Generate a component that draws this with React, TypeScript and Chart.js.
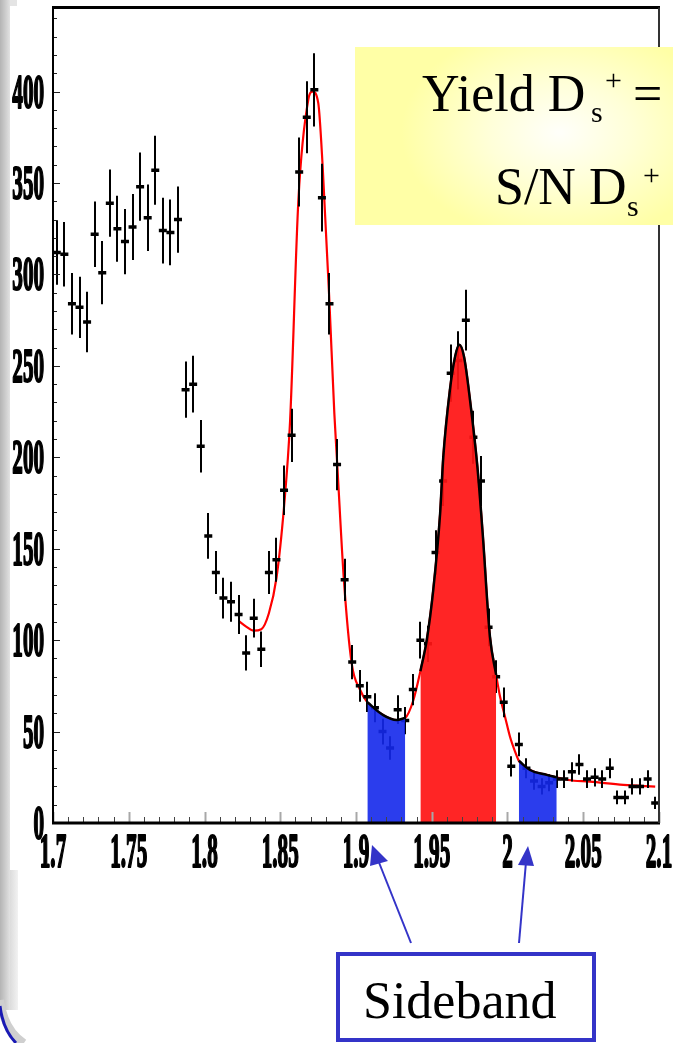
import { useEffect, useRef } from 'react';
import { Chart, registerables } from 'chart.js';

Chart.register(...registerables);

// ---- Histogram (bins of 0.005 starting at 1.7) ----
const BIN_START = 1.7;
const BIN_WIDTH = 0.005;
const COUNTS = [
  312, 311, 284, 282, 274, 322, 301, 339, 325, 318,
  326, 348, 331, 357, 324, 323, 330, 237, 240, 206,
  157, 137, 123, 121, 114, 93, 112, 95, 137, 144,
  182, 212, 356, 386, 401, 342, 284, 196, 133, 88,
  75, 69, 63, 50, 41, 62, 56, 73, 100, 98,
  148, 187, 246, 253, 275, 211, 187, 107, 80, 66,
  31, 43, 30, 23, 20, 22, 24, 24, 28, 32,
  24, 25, 24, 30, 14, 14, 20, 20, 24, 11,
];

// ---- Fit curve ----
const FIT_X = [
  1.8225, 1.8275, 1.8325, 1.8375, 1.8425, 1.8475, 1.8525, 1.8565, 1.862, 1.8685,
  1.8714, 1.8751, 1.878, 1.8824, 1.8857, 1.8877, 1.892, 1.8972, 1.9026, 1.9075,
  1.918, 1.9268, 1.9325, 1.9378, 1.9425, 1.9467, 1.951, 1.9555, 1.9576, 1.962,
  1.9654, 1.9682, 1.9713, 1.9753, 1.9801, 1.9836, 1.9884, 1.9925, 1.9951, 1.9984,
  2.0017, 2.005, 2.0075, 2.0149, 2.0259, 2.0325, 2.04, 2.0545, 2.0765, 2.0975,
];
const FIT_Y = [
  110.5, 107.4, 105.2, 106, 114.7, 134, 173, 220, 341, 395.5,
  400, 393.7, 359, 286, 224, 195, 133, 87, 73, 66,
  59, 56.3, 57.5, 67, 83, 100, 127.5, 169, 200, 237,
  255, 261.5, 255, 231, 195, 158.5, 102, 81, 69, 58,
  47, 39, 34, 29, 26.3, 25, 23.5, 22.6, 20.8, 19.9,
];

// ---- Shaded regions (x ranges) ----
const SIDEBAND_LOW = [1.9075, 1.9325];
const SIGNAL_BAND = [1.9425, 1.9925];
const SIDEBAND_HIGH = [2.0075, 2.0325];

// ---- Axes ----
const X_TICKS = [1.7, 1.75, 1.8, 1.85, 1.9, 1.95, 2.0, 2.05, 2.1];
const X_TICK_LABELS = ['1.7', '1.75', '1.8', '1.85', '1.9', '1.95', '2', '2.05', '2.1'];
const Y_TICKS = [0, 50, 100, 150, 200, 250, 300, 350, 400];
const Y_TICK_LABELS = ['0', '50', '100', '150', '200', '250', '300', '350', '400'];
const X_MIN = 1.7;
const X_MAX = 2.1;
const Y_MIN = 0;
const Y_MAX = 446;

const LABEL_FONT = 'bold 48px "Liberation Serif", "Times New Roman", serif';
const LABEL_SCALE_X = 0.44;

const errorBarPlugin = {
  id: 'errorBars',
  afterDatasetDraw(chart: any, args: any) {
    if (args.index !== 1) return;
    const { ctx, chartArea, scales } = chart;
    const x = scales.x;
    const y = scales.y;
    ctx.save();
    ctx.beginPath();
    ctx.rect(chartArea.left, chartArea.top, chartArea.right - chartArea.left, chartArea.bottom - chartArea.top);
    ctx.clip();
    ctx.strokeStyle = '#000';
    ctx.lineWidth = 2;
    COUNTS.forEach((c, i) => {
      const e = Math.sqrt(c); // Poisson uncertainty of a histogram bin
      const px = Math.round(x.getPixelForValue(BIN_START + BIN_WIDTH * (i + 0.5)));
      ctx.beginPath();
      ctx.moveTo(px, y.getPixelForValue(c - e));
      ctx.lineTo(px, y.getPixelForValue(c + e));
      ctx.stroke();
    });
    ctx.restore();
  },
};

const framePlugin = {
  id: 'rootFrame',
  afterDraw(chart: any) {
    const { ctx, chartArea, scales } = chart;
    const x = scales.x;
    const y = scales.y;
    const { left, right, top, bottom } = chartArea;
    ctx.save();
    // minor / major ticks on x (pointing into the frame)
    for (let k = 0; k <= 40; k++) {
      const v = X_MIN + k * 0.01;
      const px = Math.round(x.getPixelForValue(v)) + 0.5;
      const major = k % 5 === 0;
      ctx.beginPath();
      ctx.strokeStyle = major ? '#a8a8a8' : '#444';
      ctx.lineWidth = major ? 2 : 1;
      ctx.moveTo(px, bottom);
      ctx.lineTo(px, bottom - (major ? 11 : 6));
      ctx.stroke();
    }
    // ticks on y
    for (let k = 0; k <= 44; k++) {
      const v = k * 10;
      const py = Math.round(y.getPixelForValue(v)) + 0.5;
      const major = k % 5 === 0;
      ctx.beginPath();
      ctx.strokeStyle = '#222';
      ctx.lineWidth = 1;
      ctx.moveTo(left, py);
      ctx.lineTo(left + (major ? 7 : 4), py);
      ctx.stroke();
    }
    // frame
    ctx.strokeStyle = '#000';
    ctx.lineWidth = 3;
    ctx.beginPath(); ctx.moveTo(left - 1, top); ctx.lineTo(right + 1, top); ctx.stroke();
    ctx.beginPath(); ctx.moveTo(left - 1, bottom); ctx.lineTo(right + 1, bottom); ctx.stroke();
    ctx.lineWidth = 2;
    ctx.beginPath(); ctx.moveTo(left, top); ctx.lineTo(left, bottom); ctx.stroke();
    ctx.strokeStyle = '#333';
    ctx.beginPath(); ctx.moveTo(right, top); ctx.lineTo(right, bottom); ctx.stroke();

    // tick labels (condensed heavy serif)
    ctx.fillStyle = '#000';
    ctx.strokeStyle = '#000';
    ctx.lineWidth = 2.2;
    ctx.lineJoin = 'round';
    ctx.font = LABEL_FONT;
    ctx.textBaseline = 'alphabetic';
    X_TICKS.forEach((v, i) => {
      const px = x.getPixelForValue(v);
      ctx.save();
      ctx.translate(px, bottom + 44);
      ctx.scale(LABEL_SCALE_X, 1);
      ctx.textAlign = 'center';
      ctx.fillText(X_TICK_LABELS[i], 0, 0);
      ctx.strokeText(X_TICK_LABELS[i], 0, 0);
      ctx.restore();
    });
    Y_TICKS.forEach((v, i) => {
      const py = y.getPixelForValue(v);
      ctx.save();
      ctx.translate(left - 9, py + 16);
      ctx.scale(LABEL_SCALE_X, 1);
      ctx.textAlign = 'right';
      ctx.fillText(Y_TICK_LABELS[i], 0, 0);
      ctx.strokeText(Y_TICK_LABELS[i], 0, 0);
      ctx.restore();
    });
    ctx.restore();
  },
};

const serif = '"Liberation Serif", "Times New Roman", serif';

function Glyph({ text, left, baseline, size }: { text: string; left: number; baseline: number; size: number }) {
  return (
    <div
      style={{
        position: 'absolute',
        left,
        top: baseline - 0.891 * size,
        fontFamily: serif,
        fontSize: size,
        lineHeight: 'normal',
        whiteSpace: 'pre',
        color: '#000',
      }}
    >
      {text}
    </div>
  );
}

export default function App() {
  const canvasRef = useRef<HTMLCanvasElement>(null);

  useEffect(() => {
    const canvas = canvasRef.current;
    if (!canvas) return;
    const markers = COUNTS.map((c, i) => ({ x: BIN_START + BIN_WIDTH * (i + 0.5), y: c }));
    const fit = FIT_X.map((xv, i) => ({ x: xv, y: FIT_Y[i] }));
    const inRange = (r: number[]) => fit.filter((p) => p.x >= r[0] - 1e-9 && p.x <= r[1] + 1e-9);

    const bandDataset = (r: number[], color: string) => ({
      type: 'line' as const,
      data: inRange(r),
      borderColor: '#000',
      borderWidth: 2.5,
      backgroundColor: color,
      fill: 'origin',
      pointRadius: 0,
      cubicInterpolationMode: 'monotone' as const,
      order: 1,
    });

    const chart = new Chart(canvas, {
      type: 'scatter',
      data: {
        datasets: [
          {
            type: 'line',
            data: fit,
            borderColor: '#ff0000',
            borderWidth: 2.2,
            pointRadius: 0,
            fill: false,
            cubicInterpolationMode: 'monotone',
            order: 3,
          } as any,
          {
            type: 'scatter',
            data: markers,
            pointStyle: 'line',
            pointRadius: 4,
            borderWidth: 3.5,
            borderColor: '#000',
            backgroundColor: '#000',
            order: 2,
          } as any,
          bandDataset(SIDEBAND_LOW, 'rgba(20, 40, 235, 0.9)') as any,
          bandDataset(SIGNAL_BAND, 'rgba(255, 20, 20, 0.93)') as any,
          bandDataset(SIDEBAND_HIGH, 'rgba(20, 40, 235, 0.9)') as any,
        ],
      },
      options: {
        responsive: false,
        animation: false,
        devicePixelRatio: 1,
        layout: { padding: { left: 53, top: 7, right: 14, bottom: 220 } },
        plugins: { legend: { display: false }, tooltip: { enabled: false } },
        scales: {
          x: {
            type: 'linear',
            min: X_MIN,
            max: X_MAX,
            grid: { display: false },
            border: { display: false },
            ticks: { display: false },
            afterBuildTicks: (s: any) => { s.ticks = X_TICKS.map((v) => ({ value: v })); },
            afterFit: (s: any) => { s.height = 0; },
          },
          y: {
            type: 'linear',
            min: Y_MIN,
            max: Y_MAX,
            grid: { display: false },
            border: { display: false },
            ticks: { display: false },
            afterBuildTicks: (s: any) => { s.ticks = Y_TICKS.map((v) => ({ value: v })); },
            afterFit: (s: any) => { s.width = 0; },
          },
        },
      } as any,
      plugins: [errorBarPlugin, framePlugin],
    });
    return () => chart.destroy();
  }, []);

  const blue = '#3434c8';

  return (
    <div style={{ position: 'absolute', left: 0, top: 0, width: 673, height: 1043, background: '#fff', overflow: 'hidden' }}>
      {/* slide decoration on the left edge */}
      <div style={{ position: 'absolute', left: 0, top: 0, width: 10, height: 1010, background: 'linear-gradient(to right, #b4b4b4, #cfcfcf 60%, #e2e2e2)' }} />
      <div style={{ position: 'absolute', left: 10, top: 0, width: 7, height: 6, background: '#e4e4e4' }} />
      <div style={{ position: 'absolute', left: 10, top: 870, width: 8, height: 140, background: 'linear-gradient(to right, #dcdcdc, #f2f2f2)' }} />

      <canvas ref={canvasRef} width={673} height={1043} style={{ position: 'absolute', left: 0, top: 0, width: 673, height: 1043 }} />

      {/* Yield / S/N box */}
      <div
        style={{
          position: 'absolute',
          left: 355,
          top: 47,
          width: 330,
          height: 178,
          background: 'radial-gradient(ellipse 48% 62% at 62% 48%, #fffffa 0%, #ffffd8 45%, #ffffa6 100%)',
        }}
      />
      <Glyph text="Yield D" left={422} baseline={110} size={52} />
      <Glyph text="s" left={591} baseline={122} size={30} />
      <Glyph text="+" left={605} baseline={90} size={30} />
      <Glyph text="=" left={633} baseline={110} size={52} />
      <Glyph text="S/N D" left={495} baseline={203} size={52} />
      <Glyph text="s" left={627} baseline={216} size={30} />
      <Glyph text="+" left={643} baseline={185} size={30} />

      {/* arrows and bottom-left decoration */}
      <svg width={673} height={1043} style={{ position: 'absolute', left: 0, top: 0 }}>
        <line x1={411} y1={943} x2={378} y2={860} stroke={blue} strokeWidth={2} />
        <polygon points="372,845 370,866 388,861" fill={blue} />
        <line x1={519} y1={943} x2={526} y2={862} stroke={blue} strokeWidth={2} />
        <polygon points="528,846 518,865 534,866" fill={blue} />
        <path d="M 0 1000 Q 4 1030 24 1043" stroke="#cfcfcf" strokeWidth={8} fill="none" />
        <path d="M 0 1006 Q 3 1030 16 1043" stroke="#1a1ab4" strokeWidth={3} fill="none" />
      </svg>

      {/* Sideband label */}
      <div
        style={{
          position: 'absolute',
          left: 336,
          top: 952,
          width: 260,
          height: 90,
          boxSizing: 'border-box',
          border: `4px solid ${blue}`,
          background: '#fff',
        }}
      />
      <Glyph text="Sideband" left={363} baseline={1017} size={52} />
    </div>
  );
}
